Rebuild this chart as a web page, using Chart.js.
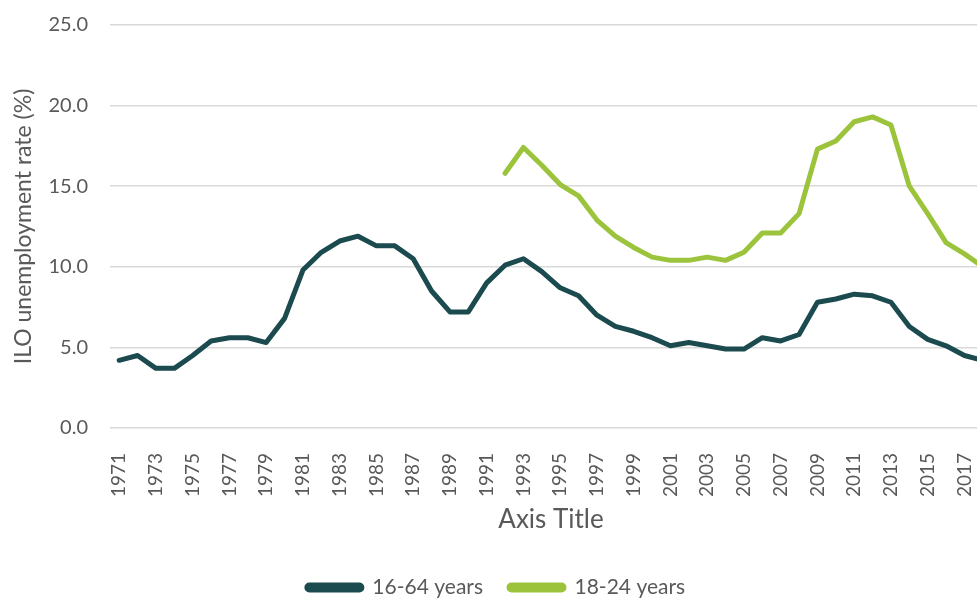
<!DOCTYPE html>
<html>
<head>
<meta charset="utf-8">
<script src="https://cdn.jsdelivr.net/npm/chart.js@4.4.1/dist/chart.umd.min.js"></script>
<style>
  html, body { margin: 0; padding: 0; background: #fff; overflow: hidden; }
  #wrap { width: 1000px; height: 601px; }
</style>
</head>
<body>
<div id="wrap"><canvas id="unempChart" width="1000" height="601"></canvas></div>
<script>
var years = [];
for (var y = 1971; y <= 2018; y++) years.push(String(y));

var age16to64 = [4.2, 4.5, 3.7, 3.7, 4.5, 5.4, 5.6, 5.6, 5.3, 6.8,
    9.8, 10.9, 11.6, 11.9, 11.3, 11.3, 10.5, 8.5, 7.2, 7.2,
    9.0, 10.1, 10.5, 9.7, 8.7, 8.2, 7.0, 6.3, 6.0, 5.6,
    5.1, 5.3, 5.1, 4.9, 4.9, 5.6, 5.4, 5.8, 7.8, 8.0,
    8.3, 8.2, 7.8, 6.3, 5.5, 5.1, 4.5, 4.2];

var age18to24 = [null, null, null, null, null, null, null, null, null, null,
    null, null, null, null, null, null, null, null, null, null,
    null, 15.8, 17.4, 16.3, 15.1, 14.4, 12.9, 11.9, 11.2, 10.6,
    10.4, 10.4, 10.6, 10.4, 10.9, 12.1, 12.1, 13.3, 17.3, 17.8,
    19.0, 19.3, 18.8, 15.0, 13.3, 11.5, 10.8, 10.0];

var yTicks = [0, 5, 10, 15, 20, 25];

var darkColor = '#1b4a4f';
var greenColor = '#9bc43c';
var textColor = '#595959';
var gridColor = '#d9d9d9';
var fontFamily = 'Lato, "Open Sans", sans-serif';

const ctx = document.getElementById('unempChart');

new Chart(ctx, {
    type: 'line',
    data: {
        labels: years,
        datasets: [{
            label: '16-64 years',
            data: age16to64,
            borderColor: darkColor,
            backgroundColor: darkColor,
            borderWidth: 5,
            pointRadius: 0,
            tension: 0,
            borderJoinStyle: 'round',
            borderCapStyle: 'round'
        }, {
            label: '18-24 years',
            data: age18to24,
            borderColor: greenColor,
            backgroundColor: greenColor,
            borderWidth: 5,
            pointRadius: 0,
            tension: 0,
            borderJoinStyle: 'round',
            borderCapStyle: 'round'
        }]
    },
    options: {
        responsive: false,
        animation: false,
        layout: {
            padding: { top: 25, right: 8, left: 0, bottom: -7 }
        },
        plugins: {
            tooltip: { enabled: false },
            legend: {
                position: 'bottom',
                labels: {
                    color: textColor,
                    font: { family: fontFamily, size: 21 },
                    boxWidth: 55,
                    boxHeight: 5,
                    useBorderRadius: true,
                    borderRadius: 2.5,
                    padding: 26
                }
            }
        },
        scales: {
            x: {
                offset: true,
                grid: { display: false },
                border: { display: false },
                ticks: {
                    color: textColor,
                    font: { family: fontFamily, size: 19 },
                    autoSkip: false,
                    minRotation: 90,
                    maxRotation: 90,
                    padding: 17,
                    // every other year, like the original axis
                    callback: function (val, i) {
                        return i % 2 === 0 ? this.getLabelForValue(val) : '';
                    }
                },
                title: {
                    display: true,
                    text: 'Axis Title',
                    color: textColor,
                    font: { family: fontFamily, size: 26 },
                    padding: { top: 4, bottom: 16 }
                },
                afterFit: function (scale) {
                    scale.height = 123;
                    scale.paddingLeft = 0;
                    scale.paddingRight = 0;
                }
            },
            y: {
                min: 0,
                max: 25,
                afterBuildTicks: function (scale) {
                    scale.ticks = yTicks.map(v => ({ value: v }));
                },
                grid: {
                    color: gridColor,
                    lineWidth: 1.5,
                    drawTicks: false
                },
                border: { display: false },
                ticks: {
                    color: textColor,
                    font: { family: fontFamily, size: 20 },
                    padding: 22,
                    callback: function (val) {
                        return Number(val).toFixed(1);
                    }
                },
                title: {
                    display: true,
                    text: 'ILO unemployment rate (%)',
                    color: textColor,
                    font: { family: fontFamily, size: 23 },
                    padding: { top: 10, bottom: 0 }
                },
                afterFit: function (scale) {
                    scale.width = 110;
                    scale.paddingTop = 0;
                    scale.paddingBottom = 0;
                }
            }
        }
    }
});
</script>
</body>
</html>
